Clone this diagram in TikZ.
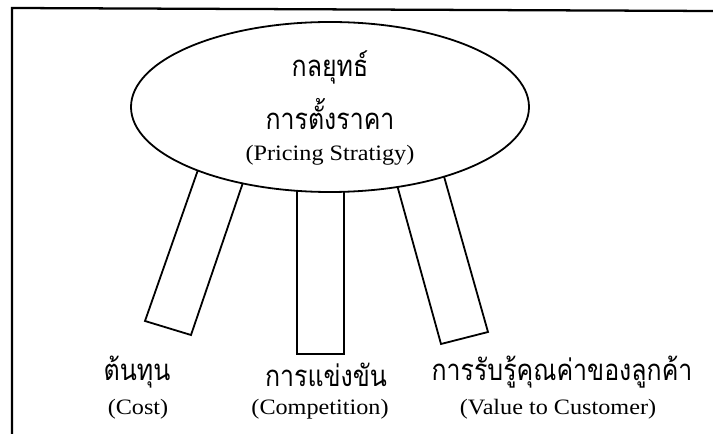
\documentclass[tikz,border=0pt]{standalone}
\usepackage{fontspec}
\setmainfont{Liberation Serif}
\newfontfamily\thaifont[Script=Thai,FakeStretch=0.85]{Loma}
\newfontfamily\enfont[FakeStretch=1.1]{Liberation Serif}
\usetikzlibrary{shapes.geometric}
\tikzset{
  frameline/.style={line width=1.7pt},
  outline/.style={line width=1.35pt},
  thtext/.style={anchor=base, inner sep=0pt, font=\thaifont\fontsize{22pt}{25pt}\selectfont},
  entext/.style={anchor=base, inner sep=0pt, font=\enfont\fontsize{16.5pt}{19pt}\selectfont},
}
\begin{document}
\begin{tikzpicture}[x=0.75pt,y=-0.75pt]
\useasboundingbox (0,0) rectangle (713,434);
% frame
\draw[frameline] (12,434) -- (12,8) -- (713,11);
% legs
\draw[outline, fill=white] (206,147) -- (145,321) -- (191,335) -- (250,162) -- cycle;
\draw[outline, fill=white] (297,150) rectangle (344,354);
\draw[outline, fill=white] (391.5,165) -- (441,344) -- (488,332) -- (438.5,157) -- cycle;
% ellipse
\node[ellipse, draw, outline, fill=white, inner sep=0pt,
      minimum width=298.5pt, minimum height=127.5pt] (top) at (330,107) {};
% top texts
\node[thtext] (t1) at (330,77) {กลยุทธ์};
\node[thtext] (t2) at (330,130) {การตั้งราคา};
\node[entext] (t3) at (330,161) {(Pricing Stratigy)};
% bottom labels
\node[thtext] (c1) at (137,380) {ต้นทุน};
\node[entext] (c2) at (138,414) {(Cost)};
\node[thtext] (m1) at (326,386) {การแข่งขัน};
\node[entext] (m2) at (320,414) {(Competition)};
\node[thtext] (v1) at (562,380) {การรับรู้คุณค่าของลูกค้า};
\node[entext] (v2) at (558,414) {(Value to Customer)};
\end{tikzpicture}
\end{document}
